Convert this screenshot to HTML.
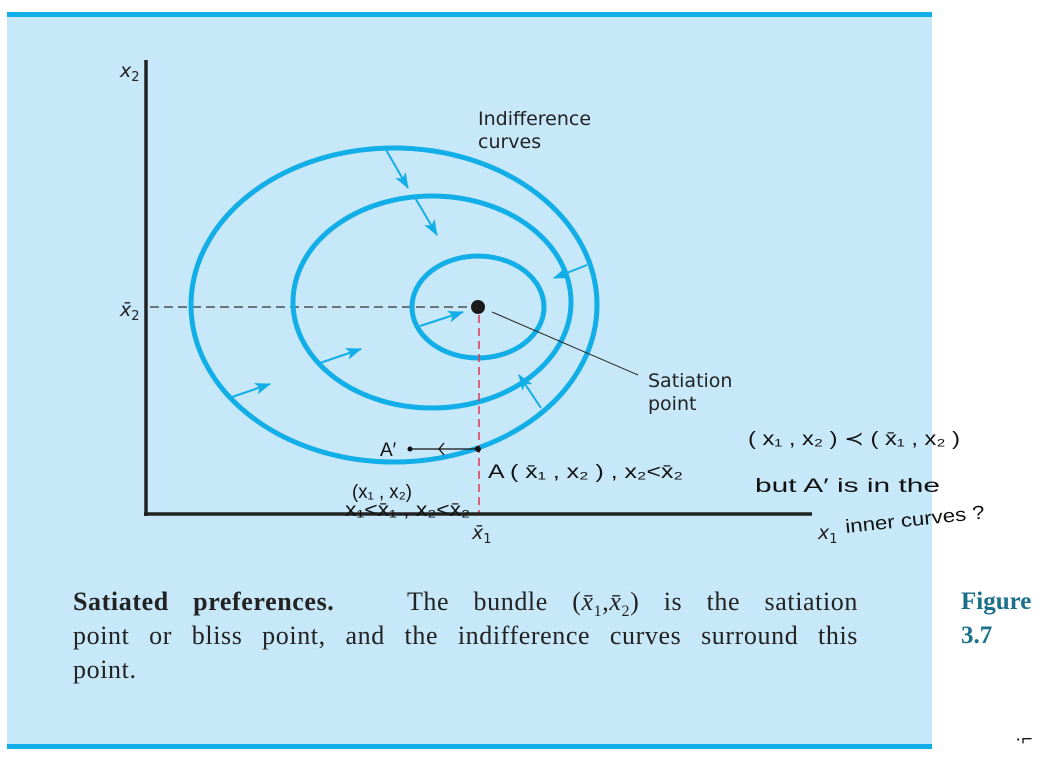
<!DOCTYPE html>
<html><head><meta charset="utf-8"><style>
body{margin:0;background:#fff;width:1061px;height:757px;overflow:hidden;position:relative}
svg{position:absolute;left:0;top:0}
.s{font-family:"DejaVu Sans","Liberation Sans",sans-serif;font-size:19px;fill:#222}
.h{font-family:"Liberation Sans","Noto Sans CJK SC",sans-serif;font-size:19px;fill:#111}
.cap{position:absolute;left:73px;width:785px;font-family:"Liberation Serif",serif;font-size:26px;line-height:34px;color:#222;white-space:nowrap;letter-spacing:0.6px}
.j{text-align:justify;text-align-last:justify}
.fig{position:absolute;left:961px;top:585px;font-family:"Liberation Serif",serif;font-size:25px;line-height:34px;color:#1a6f8a;font-weight:bold}
</style></head><body>
<svg width="1061" height="757" viewBox="0 0 1061 757">
<defs><marker id="ar" markerWidth="16" markerHeight="12" refX="15" refY="6" orient="auto" markerUnits="userSpaceOnUse"><path d="M0,0 L16,6 L0,12 L4,6 Z" fill="#12aee8"/></marker></defs>
<rect x="7" y="14" width="925" height="734" fill="#c6e8f8"/>
<rect x="7" y="12" width="925" height="5" fill="#12aee8"/>
<rect x="7" y="744" width="925" height="5" fill="#12aee8"/>
<line x1="150" y1="307" x2="470" y2="307" stroke="#333" stroke-width="1.2" stroke-dasharray="9,5"/>
<g fill="none" stroke="#12aee8" stroke-width="5">
<ellipse cx="394" cy="305" rx="203" ry="157"/>
<ellipse cx="432" cy="302" rx="139" ry="106"/>
<ellipse cx="478" cy="307" rx="66" ry="51"/>
</g>
<g stroke="#12aee8" stroke-width="2" marker-end="url(#ar)">
<line x1="385" y1="148" x2="408" y2="188"/>
<line x1="414" y1="196" x2="437" y2="235"/>
<line x1="587" y1="265" x2="554" y2="278"/>
<line x1="420" y1="326" x2="463" y2="312"/>
<line x1="320" y1="363" x2="361" y2="349"/>
<line x1="232" y1="397" x2="270" y2="384"/>
<line x1="541" y1="408" x2="519" y2="375"/>
</g>
<line x1="479" y1="315" x2="479" y2="514" stroke="#e0405a" stroke-width="1.6" stroke-dasharray="8,5"/>
<line x1="492" y1="312" x2="638" y2="375" stroke="#222" stroke-width="1"/>
<circle cx="478" cy="307" r="7" fill="#1a1a1a"/>
<line x1="146" y1="60" x2="146" y2="516" stroke="#222" stroke-width="3.5"/>
<line x1="144" y1="514" x2="812" y2="514" stroke="#222" stroke-width="3.5"/>
<text x="120" y="77" class="s" font-style="italic">x<tspan font-size="13" dy="4" font-style="normal">2</tspan></text>
<text x="120" y="316" class="s" font-style="italic">x̄<tspan font-size="13" dy="4" font-style="normal">2</tspan></text>
<text x="472" y="539" class="s" font-style="italic">x̄<tspan font-size="13" dy="4" font-style="normal">1</tspan></text>
<text x="818" y="539" class="s" font-style="italic">x<tspan font-size="13" dy="4" font-style="normal">1</tspan></text>
<text x="478" y="125" class="s">Indifference</text>
<text x="478" y="148" class="s">curves</text>
<text x="648" y="387" class="s">Satiation</text>
<text x="648" y="410" class="s">point</text>
<circle cx="478" cy="449" r="3" fill="#111"/>
<circle cx="410" cy="449" r="2.5" fill="#111"/>
<line x1="410" y1="449" x2="478" y2="449" stroke="#111" stroke-width="1.3"/>
<path d="M444,443 L439,449 L444,455" fill="none" stroke="#111" stroke-width="1.3"/>
<text x="380" y="456" class="h" font-size="23">A′</text>
<text x="488" y="478" class="h" font-size="24" textLength="195" lengthAdjust="spacingAndGlyphs">A ( x̄₁ , x₂ ) , x₂&lt;x̄₂</text>
<text x="352" y="498" class="h" font-size="23" textLength="60" lengthAdjust="spacingAndGlyphs">(x₁ , x₂)</text>
<text x="345" y="516" class="h" font-size="17" textLength="125" lengthAdjust="spacingAndGlyphs">x₁&lt;x̄₁ , x₂&lt;x̄₂</text>
<text x="748" y="445" class="h" font-size="25" textLength="212" lengthAdjust="spacingAndGlyphs">( x₁ , x₂ ) ≺ ( x̄₁ , x₂ )</text>
<text x="755" y="492" class="h" font-size="25" textLength="185" lengthAdjust="spacingAndGlyphs">but A′ is in the</text>
<text x="846" y="533" class="h" font-size="22" textLength="140" lengthAdjust="spacingAndGlyphs" transform="rotate(-6 846 533)">inner curves ?</text>
<text x="1015" y="745" class="h" font-size="14">·⌐</text>
</svg>
<div class="cap j" style="top:585px"><b>Satiated preferences.</b>&nbsp;&nbsp; The bundle (<i>x̄</i><sub style="font-size:16px">1</sub>,<i>x̄</i><sub style="font-size:16px">2</sub>) is the satiation</div>
<div class="cap j" style="top:619px">point or bliss point, and the indifference curves surround this</div>
<div class="cap" style="top:653px">point.</div>
<div class="fig">Figure<br>3.7</div>
</body></html>
